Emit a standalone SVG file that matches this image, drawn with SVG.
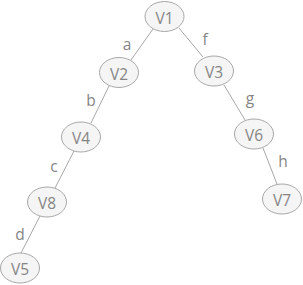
<svg xmlns="http://www.w3.org/2000/svg" width="303" height="285" viewBox="0 0 303 285">
<style>
.n ellipse{fill:#f5f5f5;stroke:#a8a8a8;stroke-width:1}
.n text{font-family:"Open Sans","Liberation Sans",sans-serif;font-size:15.5px;fill:#858585;text-anchor:middle}
.e line{stroke:#a8a8a8;stroke-width:1}
.e text{font-family:"Open Sans","Liberation Sans",sans-serif;font-size:15.5px;fill:#858585;text-anchor:middle}
</style>
<rect width="303" height="285" fill="#ffffff"/>
<g id="edges" class="e">
<line x1="153" y1="29" x2="131" y2="60"/>
<line x1="179" y1="28" x2="203" y2="57"/>
<line x1="109" y1="86" x2="91" y2="123"/>
<line x1="224" y1="85" x2="245" y2="120"/>
<line x1="74" y1="151" x2="55" y2="188"/>
<line x1="263" y1="148" x2="277" y2="184"/>
<line x1="40" y1="216" x2="21" y2="253"/>
<text x="127" y="50">a</text>
<text x="205" y="45">f</text>
<text x="91" y="106">b</text>
<text x="250" y="104">g</text>
<text x="54" y="172">c</text>
<text x="283" y="167">h</text>
<text x="20" y="240">d</text>
</g>
<g id="V1" class="n"><ellipse cx="164.5" cy="16.5" rx="19.5" ry="15"/><text x="164.5" y="23.5">V1</text></g>
<g id="V2" class="n"><ellipse cx="119" cy="72.5" rx="19.5" ry="15"/><text x="119" y="79.5">V2</text></g>
<g id="V3" class="n"><ellipse cx="214" cy="71" rx="19.5" ry="15"/><text x="214" y="78">V3</text></g>
<g id="V4" class="n"><ellipse cx="81" cy="137" rx="19.5" ry="15"/><text x="81" y="144">V4</text></g>
<g id="V6" class="n"><ellipse cx="254" cy="134" rx="19.5" ry="15"/><text x="254" y="141">V6</text></g>
<g id="V8" class="n"><ellipse cx="47" cy="202" rx="19.5" ry="15"/><text x="47" y="209">V8</text></g>
<g id="V7" class="n"><ellipse cx="282" cy="199" rx="19.5" ry="15"/><text x="282" y="206">V7</text></g>
<g id="V5" class="n"><ellipse cx="20" cy="268" rx="19.5" ry="15"/><text x="20" y="275">V5</text></g>
</svg>
